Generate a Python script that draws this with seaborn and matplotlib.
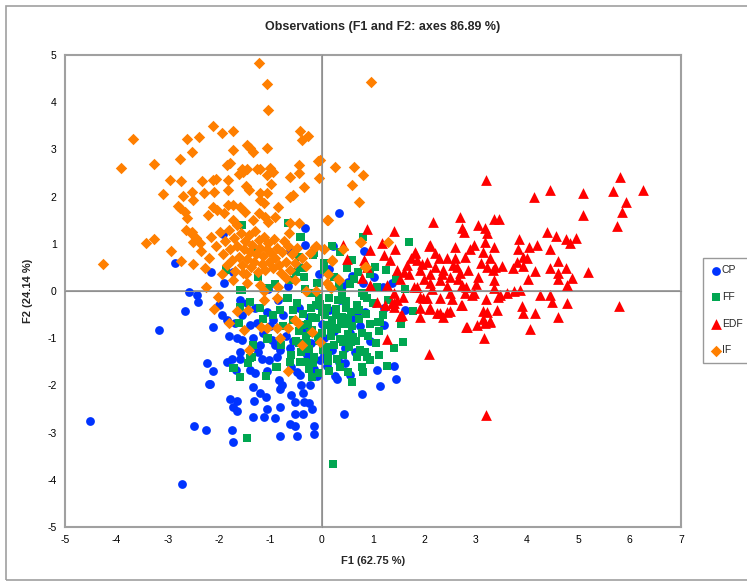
import numpy as np
import pandas as pd
import seaborn as sns
import matplotlib.pyplot as plt
from matplotlib.patches import Rectangle

# --- data (F1, F2 coordinates per group) ---
cp_x = [-4.52, -2.72, -3.17, -2.66, -2.58, -2.43, -2.40, -2.85, -2.15, -1.92, -0.33, -0.32, -0.61, -0.45, -1.91, -1.72,
        -2.24, -2.12, -2.17, -2.49, -2.26, -1.75, -1.73, -1.78, -1.64, -1.72, -1.64, -1.33, -1.13, -0.91, -0.82, -0.48,
        -0.61, -0.52, -0.52, -0.37, -0.15, -0.15, -1.31, -1.06, -0.81, -1.33, -1.20, -1.08, -0.84, -0.78, -0.81, -0.59,
        -0.52, -0.35, -0.24, -0.19, -0.37, -0.22, -1.85, -1.75, -1.59, -1.67, -1.39, -1.30, -1.07, -1.17, -1.02, -0.87,
        -1.59, -1.36, -1.20, -0.97, -0.81, -0.61, -0.48, -0.42, -0.41, -2.11, -1.94, -1.85, -1.69, -1.55, -1.65, -1.55,
        -1.39, -1.26, -1.07, -0.94, -1.33, -0.29, -0.03, 0.07, 0.10, -0.09, 0.44, 0.79, 1.13, 1.44, 1.41, 1.08,
        0.30, 0.26, 0.55, 0.46, 0.33, 1.22, 1.22, 1.63, 0.85, 1.02, 0.69, 0.59, 0.04, 1.37, 0.52, 0.81,
        0.33, 0.23, 0.83, 1.20, 0.59, 1.01, 0.15, -2.19, -1.45, -1.30, -1.15, -1.00, -0.90, -0.75, -0.70, -0.55,
        -0.45, -0.35, -0.25, -0.20, -0.10, 0.00, 0.05, 0.15, 0.25, 0.35, 0.45, 0.55, 0.65, 0.75, 0.95, -1.60,
        -1.25, -0.60, -0.15, 0.20, -2.00, -1.80, -0.85, 0.40, -0.05, -0.65, -1.05]
cp_y = [-2.76, -4.08, -0.83, -0.42, -0.03, -0.08, -0.24, 0.59, 0.41, 1.20, 1.33, 0.97, 0.85, 0.51, 0.16, 0.41,
        -1.53, -1.69, -1.97, -2.85, -2.95, -2.94, -3.19, -2.29, -2.32, -2.45, -2.54, -2.66, -2.66, -2.69, -3.07, -3.07,
        -2.82, -2.85, -2.61, -2.61, -2.87, -3.02, -2.33, -2.51, -2.45, -2.03, -2.17, -2.25, -1.89, -1.99, -2.08, -2.20,
        -2.35, -2.35, -2.38, -2.49, -2.17, -1.99, -1.50, -1.45, -1.45, -1.67, -1.67, -1.74, -1.69, -1.45, -1.46, -1.39,
        -1.29, -1.18, -1.14, -1.04, -1.25, -1.21, -1.71, -1.78, -1.99, -0.76, -0.51, -0.61, -0.68, -0.51, -1.00, -1.04,
        -0.72, -0.68, -0.44, -0.61, -1.00, -1.36, -1.46, -1.36, -1.59, -1.80, -2.61, -2.18, -2.02, -1.86, -1.59, -1.68,
        -1.86, -1.80, -1.78, -1.53, -1.50, -0.72, -0.37, -0.40, -0.45, -0.26, -0.47, -0.58, -1.36, 0.16, 0.20, 0.16,
        1.65, 0.96, 0.85, 0.09, 0.32, 0.30, 0.47, -1.96, -0.25, -0.35, -0.90, -0.75, -1.15, -0.50, -0.95, -1.05,
        -0.35, -0.80, -0.55, -1.10, -0.30, -0.70, -1.00, -0.40, -0.85, -0.20, -1.20, -0.90, -1.30, -0.75, -1.05, -0.20,
        -1.30, -1.60, -1.65, -1.25, -0.30, -0.95, -0.20, 0.10, 0.35, 0.10, 0.05]

ff_x = [-1.45, 0.22, -1.55, -0.65, -0.40, -0.15, 0.04, 0.81, 1.71, 0.36, 0.49, 1.04, 1.08, 1.63, 1.58, 1.78,
        1.27, 1.11, 1.14, 0.81, 0.59, 0.88, 0.94, 0.78, 0.52, -1.70, -1.59, -1.08, -0.89, -0.19, -0.06, -0.16,
        -1.44, -1.36, -0.61, -0.42, -1.62, -1.59, -1.21, -1.06, -1.33, -1.04, -0.65, -0.55, -0.29, -0.42, -0.16, -0.45,
        -0.39, -0.61, -0.67, -1.59, -1.39, -1.86, -0.81, -1.04, -0.87, -1.72, -1.39, -1.36, -1.87, -1.55,
        -0.55, -0.50, -0.48, -0.44, -0.40, -0.37, -0.33, -0.30, -0.27, -0.24, -0.21, -0.18, -0.15, -0.12, -0.09, -0.06,
        -0.03, 0.00, 0.03, 0.06, 0.09, 0.12, 0.15, 0.18, 0.21, 0.24, 0.27, 0.30, 0.33, 0.36, 0.39, 0.42,
        0.45, 0.48, 0.51, 0.54, 0.57, 0.60, 0.63, 0.66, 0.69, 0.72, 0.75, 0.78, 0.82, 0.86, 0.90, 0.95,
        1.00, 1.05, 1.12, 1.20, 1.30, 1.40, -0.05, 0.10, 0.25, 0.40, 0.55, -0.20, -0.35, -0.50, 0.05, 0.70,
        0.15, -0.25, 0.35, -0.60, -0.75, -0.80, -0.95, -1.15, -0.90, -1.25, 1.55, 1.45, 1.25, 0.95, 0.60, 0.20,
        -0.38, -0.28, -0.18, -0.08, 0.02, 0.12, 0.22, 0.32, 0.42, 0.52, 0.62, 0.72, 0.85, -0.32, -0.12, 0.08,
        0.28, 0.48, 0.68, 0.88, -0.22, 0.18, 0.38, 0.58, 0.78, -0.45, 0.00, 0.45, 1.10, 0.30]
ff_y = [-3.12, -3.67, 1.40, 1.45, 1.15, 0.80, 0.60, 1.15, 1.03, 0.83, 0.49, 0.51, 0.09, 0.04, -1.09, -0.42,
        -1.59, -1.36, -0.65, -1.71, -1.92, -1.39, -1.46, -1.60, -1.71, -1.64, -1.83, -1.80, -1.62, -1.82, -1.73, -1.53,
        -1.53, -1.39, -1.50, -1.50, -0.67, -0.33, -0.37, -1.02, -1.14, 0.06, -0.15, -0.40, -1.11, 1.14, 0.76, 0.73,
        0.48, 0.23, -0.15, 0.02, -0.23, 0.44, -0.40, -1.00, -1.60, -1.64, -1.43, 0.83, 0.44, 0.02,
        -0.62, -1.05, -0.25, -0.85, -1.30, -0.48, 0.05, -0.95, -0.70, -1.22, -0.35, -0.82, -1.40, -0.58, 0.18, -1.05,
        -0.28, -0.88, -1.25, -0.50, -0.72, -1.48, -0.15, -0.95, -0.62, -1.15, -0.38, -0.80, 0.10, -1.02, -0.55, -1.35,
        -0.70, -0.22, -0.92, -1.18, -0.45, -0.75, 0.25, -1.05, -0.30, -0.60, -1.25, -0.88, -0.10, -0.48, -0.95, -0.70,
        -0.25, -1.10, -0.85, -0.50, -0.20, -1.20, -0.15, -0.35, 0.30, -0.05, 0.15, -0.05, 0.30, 0.40, 0.45, 0.40,
        -1.70, -1.65, -1.60, -1.35, -0.75, -1.15, -0.50, -0.60, 0.15, 0.30, -0.70, 0.25, 0.45, 0.35, 0.65, 0.95,
        -0.72, -1.12, -0.55, -0.95, -0.42, -1.35, -0.78, -0.20, -1.08, -0.60, -0.98, -0.40, -1.30, -1.50, -0.30, -1.18,
        -0.50, -0.35, -1.40, -0.15, -0.88, -0.80, -0.68, -1.08, -0.05, -1.10, -0.45, -0.58, -0.65, -1.45]

edf_x = [3.20, 4.14, 4.45, 5.10, 5.10, 5.67, 5.81, 6.26, 5.92, 5.86, 5.75, 2.16, 2.70, 2.73, 2.78, 3.04,
         3.19, 3.23, 3.35, 3.46, 4.39, 4.56, 4.76, 4.84, 4.96, 3.85, 4.19, 4.03, 4.44, 3.83, 0.88, 1.40,
         1.42, 1.17, 0.94, 0.42, 0.49, 1.82, 2.11, 2.59, 2.97, 3.19, 3.35, 5.19, 4.61, 4.76, 4.45, 4.16,
         4.61, 4.87, 4.78, 4.01, 3.20, 5.80, 2.10, 4.05, 4.61, 4.78, 4.45, 4.48, 4.16, 3.91, 3.93, 4.26,
         2.81, 3.02, 3.19, 3.27, 3.17, 3.14, 3.20, 2.73, 2.50, 2.36, 2.24, 1.91, 2.10, 1.54, 1.27, 3.35,
         3.48, 3.61, 3.74, 3.87, 1.08, 1.24, 1.37, 1.40, 1.59, 1.92, 2.05, 2.31, 2.54, 2.93, 2.80, 0.94,
         1.27, 4.61, 3.92, 3.72, 3.51, 3.80, 3.93, 4.00, 3.34, 3.36, 0.85, 1.21, 1.33, 1.46, 1.53, 0.78,
         0.94, 1.82, 2.10, 1.85, 1.66, 2.05, 2.28, 2.44, 2.60, 2.21, 1.92, 2.11, 2.37, 2.63, 2.80, 2.89,
         3.15, 3.22, 3.28, 3.38, 2.86, 2.50, 2.31, 2.11, 1.85, 2.73, 2.82, 2.96, 2.50, 1.98, 1.79, 1.46,
         1.40, 1.56, 1.92, 2.11, 2.31, 2.44, 2.72, 2.83, 3.15, 3.28, 3.22, 3.41, 3.44, 1.40, 0.82, 0.88,
         1.53, 1.70, 1.95, 2.20, 2.35, 2.55, 2.65, 2.00, 1.75, 2.45, 2.15, 1.60, 2.70, 3.05, 3.10, 3.00]
edf_y = [2.35, 2.00, 2.14, 2.08, 1.62, 2.12, 2.42, 2.14, 1.89, 1.68, 1.38, 1.47, 1.56, 1.34, 1.24, 1.40,
         1.34, 1.22, 1.53, 1.53, 1.26, 1.17, 1.10, 1.01, 1.13, 1.10, 0.97, 0.94, 0.88, 0.88, 1.31, 1.28,
         0.89, 1.01, 0.87, 0.97, 0.67, 0.82, 0.97, 0.94, 0.97, 1.04, 0.94, 0.40, 0.64, 0.48, 0.48, 0.42,
         0.25, 0.27, 0.13, 0.25, -2.62, -0.32, -1.33, -0.81, -0.56, -0.25, -0.08, -0.23, -0.46, -0.32, -0.47, -0.08,
         -0.76, -0.72, -0.67, -0.63, -1.00, -0.42, -0.18, -0.30, -0.42, -0.56, -0.47, -0.56, -0.39, -0.51, -1.02, 0.06,
         -0.08, -0.05, -0.01, 0.02, -0.23, -0.30, -0.25, -0.05, -0.12, -0.12, -0.15, -0.15, -0.18, -0.08, -0.05, 0.13,
         0.13, 0.38, 0.53, 0.48, 0.52, 0.62, 0.73, 0.69, 0.44, 0.23, 0.62, 0.76, 0.66, 0.44, 0.25, 0.27,
         0.11, 0.81, 0.95, 0.66, 0.55, 0.62, 0.69, 0.69, 0.69, 0.51, 0.44, 0.37, 0.44, 0.51, 0.73, 0.90,
         0.83, 0.51, 0.69, 0.51, 0.44, 0.30, 0.23, 0.16, 0.09, 0.13, 0.09, -0.05, -0.05, -0.15, 0.09, -0.19,
         -0.26, -0.51, -0.37, -0.37, -0.47, -0.44, -0.30, -0.76, -0.60, -0.65, -0.44, -0.40, -0.12, -0.33, 0.66, 0.51,
         -0.54, 0.35, 0.58, 0.80, 0.35, 0.55, 0.25, 0.25, 0.70, 0.10, 0.05, 0.40, 0.38, 0.30, 0.60, 0.15]

if_x = [-1.23, -1.07, -1.04, -2.11, -1.94, -1.72, -3.67, -2.62, -2.39, -1.72, -2.53, -1.46, -1.39, -1.33, -1.06, -0.42,
        -0.39, -0.27, -3.90, -3.27, -2.76, -1.85, -1.78, -1.55, -1.46, -1.26, -1.21, -1.00, -0.94, -1.06, -0.44, -0.44,
        -0.61, -0.07, -0.05, -0.35, -2.95, -2.74, -2.33, -2.12, -2.06, -1.82, -1.62, -1.54, -2.53, -2.30, -2.09, -1.83,
        -1.47, -1.41, -1.21, -1.06, -0.98, -1.21, -1.13, -0.61, -0.55, -3.10, -2.70, -2.51, -2.80, -2.76, -2.66, -2.63,
        -2.11, -2.04, -2.21, -1.90, -1.82, -1.72, -1.59, -1.49, -1.72, -1.65, -1.34, -1.23, -1.10, -1.04, -0.91, -0.85,
        -2.53, -2.55, -2.51, -2.37, -0.61, -0.44, -0.63, 0.10, -3.42, -3.27, -2.93, -2.74, -2.51, -4.26, -2.25, -0.11,
        0.04, 0.96, 0.26, 0.63, 0.80, 0.60, 0.72, 0.13, -0.03, 0.77, 1.30, 0.41, 0.21, 0.86, 0.32, 0.13,
        0.16, -2.01, -2.09, -1.80, -1.52, -1.64, -1.43, -1.12, -1.18, -1.06, -0.87, -0.87, -0.81, -0.65, -0.52, -0.47,
        -1.41, -0.65, -0.39, -0.19, -0.03, -0.11, 0.10, 0.19, 0.33, -0.30, -0.52, -0.69, -0.86, -1.12, -1.21, -1.46,
        -1.54, -1.72, 0.20, -0.13, 0.75, 0.85,
        -2.15, -2.05, -1.98, -1.92, -1.88, -1.85, -1.80, -1.78, -1.75, -1.70, -1.68, -1.65, -1.62, -1.58, -1.55, -1.52,
        -1.50, -1.47, -1.45, -1.42, -1.40, -1.37, -1.35, -1.32, -1.30, -1.27, -1.25, -1.22, -1.20, -1.17, -1.15, -1.12,
        -1.10, -1.07, -1.05, -1.02, -0.98, -0.95, -0.92, -0.90, -0.87, -0.83, -0.80, -0.77, -0.74, -0.70, -0.66, -0.62,
        -0.58, -0.52, -0.48, -0.38, -0.30, -0.22, -2.35, -2.45, -2.28, -1.95, -2.65, -2.20]
if_y = [4.82, 4.39, 3.83, 3.50, 3.34, 3.39, 3.22, 3.22, 3.26, 2.98, 2.94, 3.09, 3.02, 2.95, 3.04, 3.38,
        3.20, 3.28, 2.61, 2.69, 2.80, 2.67, 2.72, 2.58, 2.58, 2.58, 2.58, 2.61, 2.53, 2.46, 2.68, 2.51,
        2.42, 2.76, 2.40, 2.21, 2.35, 2.32, 2.33, 2.35, 2.37, 2.35, 2.47, 2.53, 2.10, 2.08, 2.10, 2.13,
        2.22, 2.14, 2.07, 2.08, 2.26, 1.93, 1.86, 2.00, 2.03, 2.06, 2.02, 1.93, 1.81, 1.75, 1.68, 1.54,
        1.79, 1.72, 1.61, 1.65, 1.82, 1.82, 1.79, 1.68, 1.50, 1.40, 1.50, 1.65, 1.57, 1.47, 1.57, 1.77,
        1.26, 1.22, 1.04, 1.01, 1.45, 1.45, 1.22, 1.50, 1.01, 1.10, 0.85, 0.64, 0.57, 0.57, 0.08, 0.95,
        0.88, 4.43, 2.63, 2.63, 2.46, 2.24, 1.89, 1.50, 2.77, 1.04, 1.04, 0.90, 0.64, 0.51, 0.25, 0.37,
        0.09, -0.12, -0.38, -0.68, -0.83, -0.42, -0.40, -0.19, -0.76, -0.78, -0.15, -0.79, -0.99, -0.78, -0.61, -0.67,
        -1.25, -1.69, -1.14, -0.86, -1.07, -0.01, 0.16, 0.06, 0.23, 0.00, 0.23, 0.27, 0.09, -0.01, 0.13, 0.16,
        0.38, 0.23, 0.66, 0.94, 1.04, 0.51,
        1.15, 0.95, 1.25, 0.78, 1.05, 0.55, 1.30, 0.88, 0.65, 1.12, 0.42, 0.95, 0.72, 1.22, 0.55, 0.88,
        1.05, 0.35, 0.68, 1.18, 0.82, 0.50, 0.98, 0.62, 1.28, 0.78, 0.40, 1.08, 0.92, 0.58, 0.75, 1.15,
        0.45, 0.88, 1.02, 0.62, 0.80, 0.48, 1.10, 0.70, 0.92, 0.55, 0.38, 0.82, 1.05, 0.62, 0.95, 0.45,
        0.78, 0.60, 0.92, 0.70, 0.52, 0.80, 0.85, 1.12, 0.48, 0.35, 1.30, 0.70]

groups = ['CP', 'FF', 'EDF', 'IF']
colors = {'CP': '#0033FF', 'FF': '#00A651', 'EDF': '#FF0000', 'IF': '#FF7F00'}
markers = {'CP': 'o', 'FF': 's', 'EDF': '^', 'IF': 'D'}
sizes = {'CP': 40, 'FF': 32, 'EDF': 60, 'IF': 34}

df = pd.concat([
    pd.DataFrame({'F1': cp_x, 'F2': cp_y, 'group': 'CP'}),
    pd.DataFrame({'F1': ff_x, 'F2': ff_y, 'group': 'FF'}),
    pd.DataFrame({'F1': edf_x, 'F2': edf_y, 'group': 'EDF'}),
    pd.DataFrame({'F1': if_x, 'F2': if_y, 'group': 'IF'}),
], ignore_index=True)

sns.set_style('white')
plt.rcParams['font.family'] = ['Liberation Sans', 'DejaVu Sans']
plt.rcParams['axes.unicode_minus'] = False

fig = plt.figure(figsize=(7.47, 5.84), dpi=100)
ax = fig.add_axes([65 / 747, 57 / 584, 616 / 747, 472 / 584])

for g in groups:
    sns.scatterplot(data=df[df['group'] == g], x='F1', y='F2', color=colors[g], marker=markers[g],
                    s=sizes[g], linewidth=0, ax=ax, label=g, zorder=3)

ax.set_xlim(-5, 7)
ax.set_ylim(-5, 5)
ax.set_xticks(range(-5, 8))
ax.set_yticks(range(-5, 6))
ax.tick_params(length=0, labelsize=7.5, colors='black', pad=6)
for sp in ax.spines.values():
    sp.set_color('#A0A0A0')
    sp.set_linewidth(1.5)
ax.axhline(0, color='#909090', lw=1.2, zorder=1)
ax.axvline(0, color='#909090', lw=1.2, zorder=1)
ax.set_xlabel('F1 (62.75 %)', fontsize=8, fontweight='bold', labelpad=8)
ax.set_ylabel('F2 (24.14 %)', fontsize=8, fontweight='bold', labelpad=10)
ax.legend_.remove()

# tick marks sitting on the zero lines
ax2 = fig.add_axes(ax.get_position(), sharex=ax, sharey=ax, facecolor='none')
for side in ['top', 'right']:
    ax2.spines[side].set_visible(False)
ax2.spines['left'].set_position(('data', 0))
ax2.spines['bottom'].set_position(('data', 0))
ax2.spines['left'].set_color('#909090')
ax2.spines['bottom'].set_color('#909090')
ax2.tick_params(direction='inout', length=6, color='#909090', labelleft=False, labelbottom=False)
ax2.set_xlabel('')
ax2.set_ylabel('')

fig.text(383 / 747, 1 - 27 / 584, 'Observations (F1 and F2: axes 86.89 %)', ha='center', va='center',
         fontsize=9, fontweight='bold')

handles, labels = ax.get_legend_handles_labels()
leg = fig.legend(handles, labels, loc='upper left', bbox_to_anchor=(703 / 747, 1 - 258 / 584),
                 frameon=True, fancybox=False, edgecolor='#808080', fontsize=7.5, handletextpad=0.1,
                 handlelength=1.0, labelspacing=1.6, borderpad=0.7, borderaxespad=0)
leg.get_frame().set_linewidth(1.0)

fig.patches.append(Rectangle((6 / 747, 4 / 584), 1.0, 1 - 10 / 584, transform=fig.transFigure,
                             fill=False, edgecolor='#A0A0A0', lw=1.2))

fig.savefig('out.png', dpi=100)
